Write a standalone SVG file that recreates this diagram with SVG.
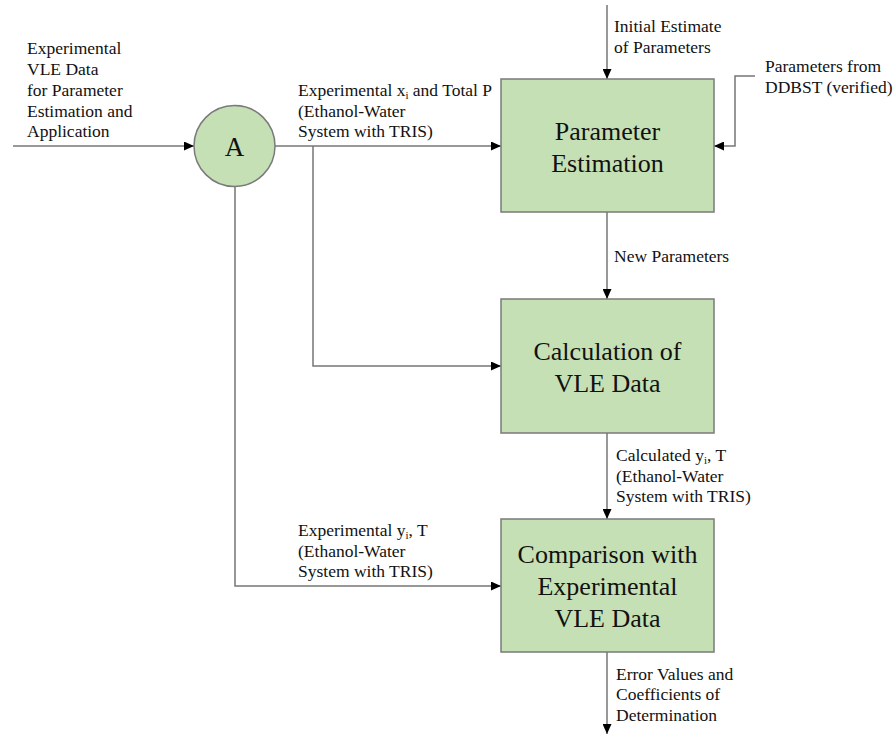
<svg xmlns="http://www.w3.org/2000/svg" width="895" height="736" viewBox="0 0 895 736">
<style>
.box{fill:#c5e0b4;stroke:#7a7a7a;stroke-width:1.5}
.con{fill:none;stroke:#767676;stroke-width:1.5}
.lbl{font-size:17.5px;fill:#111}
.big{font-size:26px;fill:#111;text-anchor:middle}
.sub{font-size:11px}
</style>
<defs>
<marker id="arr" markerUnits="userSpaceOnUse" markerWidth="10" markerHeight="9" refX="10" refY="4.5" orient="auto">
<path d="M0,0 L10,4.5 L0,9 z" fill="#000"/>
</marker>
</defs>
<rect width="895" height="736" fill="#fff"/>
<g id="connectors">
<path class="con" d="M13 146 H194" marker-end="url(#arr)"/>
<path class="con" d="M275 146 H501" marker-end="url(#arr)"/>
<path class="con" d="M313 146 V366 H501" marker-end="url(#arr)"/>
<path class="con" d="M235 187 V586 H501" marker-end="url(#arr)"/>
<path class="con" d="M607 5 V79" marker-end="url(#arr)"/>
<path class="con" d="M755 76 H735 V146 H714" marker-end="url(#arr)"/>
<path class="con" d="M607 212 V299" marker-end="url(#arr)"/>
<path class="con" d="M607 433 V519" marker-end="url(#arr)"/>
<path class="con" d="M607 652 V734" marker-end="url(#arr)"/>
</g>
<g id="node-A">
<circle class="box" cx="234.5" cy="146" r="40.5"/>
<text font-family="Liberation Serif" x="234.5" y="156" font-size="27" fill="#111" text-anchor="middle">A</text>
</g>
<g id="node-parameter-estimation">
<rect class="box" x="501" y="79" width="213" height="133"/>
<text font-family="Liberation Serif" class="big" x="607.5" y="139.5">Parameter</text>
<text font-family="Liberation Serif" class="big" x="607.5" y="172">Estimation</text>
</g>
<g id="node-calculation">
<rect class="box" x="501" y="299" width="213" height="134"/>
<text font-family="Liberation Serif" class="big" x="607.5" y="360">Calculation of</text>
<text font-family="Liberation Serif" class="big" x="607.5" y="392">VLE Data</text>
</g>
<g id="node-comparison">
<rect class="box" x="501" y="519" width="213" height="133"/>
<text font-family="Liberation Serif" class="big" x="607.5" y="562.5">Comparison with</text>
<text font-family="Liberation Serif" class="big" x="607.5" y="594.5">Experimental</text>
<text font-family="Liberation Serif" class="big" x="607.5" y="626.5">VLE Data</text>
</g>
<g id="labels">
<text font-family="Liberation Serif" class="lbl" x="27" y="54">Experimental</text>
<text font-family="Liberation Serif" class="lbl" x="27" y="75">VLE Data</text>
<text font-family="Liberation Serif" class="lbl" x="27" y="96">for Parameter</text>
<text font-family="Liberation Serif" class="lbl" x="27" y="117">Estimation and</text>
<text font-family="Liberation Serif" class="lbl" x="27" y="137">Application</text>

<text font-family="Liberation Serif" class="lbl" x="298" y="96">Experimental x<tspan class="sub" dy="3">i</tspan><tspan dy="-3"> and Total P</tspan></text>
<text font-family="Liberation Serif" class="lbl" x="298" y="117">(Ethanol-Water</text>
<text font-family="Liberation Serif" class="lbl" x="298" y="137">System with TRIS)</text>

<text font-family="Liberation Serif" class="lbl" x="614" y="32">Initial Estimate</text>
<text font-family="Liberation Serif" class="lbl" x="614" y="53">of Parameters</text>

<text font-family="Liberation Serif" class="lbl" x="765" y="72" font-size="16">Parameters from</text>
<text font-family="Liberation Serif" class="lbl" x="765" y="93" font-size="16">DDBST (verified)</text>

<text font-family="Liberation Serif" class="lbl" x="614" y="262">New Parameters</text>

<text font-family="Liberation Serif" class="lbl" x="616" y="461">Calculated y<tspan class="sub" dy="3">i</tspan><tspan dy="-3">, T</tspan></text>
<text font-family="Liberation Serif" class="lbl" x="616" y="482">(Ethanol-Water</text>
<text font-family="Liberation Serif" class="lbl" x="616" y="502">System with TRIS)</text>

<text font-family="Liberation Serif" class="lbl" x="298" y="536">Experimental y<tspan class="sub" dy="3">i</tspan><tspan dy="-3">, T</tspan></text>
<text font-family="Liberation Serif" class="lbl" x="298" y="557">(Ethanol-Water</text>
<text font-family="Liberation Serif" class="lbl" x="298" y="577">System with TRIS)</text>

<text font-family="Liberation Serif" class="lbl" x="616" y="680">Error Values and</text>
<text font-family="Liberation Serif" class="lbl" x="616" y="700">Coefficients of</text>
<text font-family="Liberation Serif" class="lbl" x="616" y="721">Determination</text>
</g>
</svg>
